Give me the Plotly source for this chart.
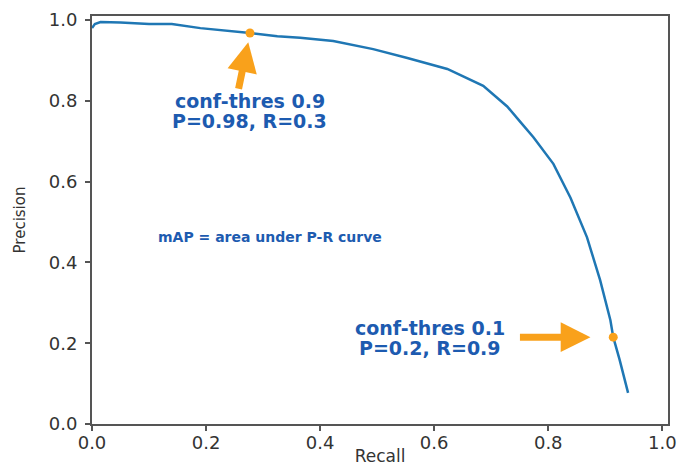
import plotly.graph_objects as go

recall = [0.000, 0.005, 0.015, 0.05, 0.10, 0.14, 0.19, 0.247, 0.277, 0.325, 0.365, 0.423,
          0.493, 0.553, 0.623, 0.686, 0.728, 0.751, 0.774, 0.809, 0.839, 0.868, 0.891,
          0.909, 0.914, 0.925, 0.940]
precision = [0.980, 0.990, 0.995, 0.994, 0.990, 0.990, 0.980, 0.973, 0.968, 0.960, 0.956, 0.948,
             0.928, 0.906, 0.879, 0.837, 0.786, 0.748, 0.710, 0.644, 0.560, 0.462, 0.356,
             0.257, 0.215, 0.160, 0.077]

marker_r = [0.277, 0.914]
marker_p = [0.968, 0.215]

label_hi = ["conf-thres 0.9", "P=0.98, R=0.3"]
label_lo = ["conf-thres 0.1", "P=0.2, R=0.9"]
label_map = "mAP = area under P-R curve"

ORANGE = "#f9a11b"
BLUE_TXT = "#1d5bb0"
AX = "#555555"

fig = go.Figure()
fig.add_trace(go.Scatter(x=recall, y=precision, mode="lines",
                         line=dict(color="#1f77b4", width=2.5), showlegend=False))
fig.add_trace(go.Scatter(x=marker_r, y=marker_p, mode="markers",
                         marker=dict(color=ORANGE, size=9), showlegend=False))

tfont = dict(family="DejaVu Sans", size=19, color=BLUE_TXT, weight="bold")
fig.add_annotation(x=0.274, y=0.945, ax=-10, ay=48, text="", showarrow=True,
                   arrowhead=2, arrowwidth=7, arrowsize=0.85, arrowcolor=ORANGE, standoff=0)
fig.add_annotation(x=0.874, y=0.215, ax=-72, ay=0, text="", showarrow=True,
                   arrowhead=2, arrowwidth=7, arrowsize=0.85, arrowcolor=ORANGE, standoff=0)
for i, line in enumerate(label_hi):
    fig.add_annotation(x=0.277, y=0.774, yshift=10 - 20 * i, text="<b>" + line + "</b>",
                       showarrow=False, font=tfont, align="center")
for i, line in enumerate(label_lo):
    fig.add_annotation(x=0.593, y=0.212, yshift=10 - 20 * i, text="<b>" + line + "</b>",
                       showarrow=False, font=tfont, align="center")
fig.add_annotation(x=0.312, y=0.462, text="<b>" + label_map + "</b>", showarrow=False,
                   font=dict(family="DejaVu Sans", size=14, color=BLUE_TXT), align="center")

axis_common = dict(showgrid=False, zeroline=False, showline=True, linecolor=AX, linewidth=2,
                   mirror=True, ticks="outside", ticklen=5, tickcolor=AX, tickwidth=1.5,
                   tickfont=dict(family="DejaVu Sans", size=18, color="#333333"),
                   dtick=0.2, tickformat=".1f", automargin=False, ticklabeloverflow="allow")
fig.update_xaxes(range=[0, 1.01], ticklabelstandoff=-4,
                 title=dict(text="Recall", standoff=4,
                            font=dict(family="DejaVu Sans", size=17, color="#333333")),
                 **axis_common)
fig.update_yaxes(range=[0, 1.01], ticklabelstandoff=4,
                 title=dict(text="Precision", standoff=20,
                            font=dict(family="DejaVu Sans", size=15, color="#333333")),
                 **axis_common)

fig.update_layout(width=678, height=466, margin=dict(l=92, r=10, t=16, b=42),
                  plot_bgcolor="white", paper_bgcolor="white")
fig.write_html("out.html", config={"displayModeBar": False},
               post_script="document.body.style.margin='0';")
